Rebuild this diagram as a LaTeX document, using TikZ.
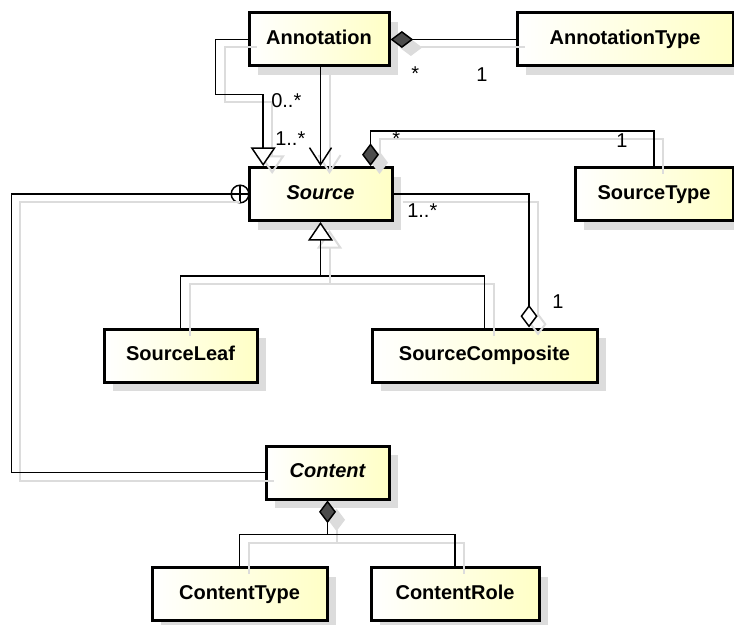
\documentclass[tikz,border=0pt]{standalone}
\usepackage{fontspec}
\setmainfont{Liberation Sans}
\usetikzlibrary{arrows.meta,shadows}
\definecolor{clsyellow}{HTML}{FFFFC6}
\definecolor{shadegray}{HTML}{DCDCDC}

\begin{document}
\begin{tikzpicture}[x=0.75pt,y=-0.75pt]

\tikzset{
  cls/.style={draw,rectangle,line width=2.25pt,minimum height=39.75pt,
    text height=11pt,text depth=3pt,
    left color=white,right color=clsyellow,
    font=\fontsize{15}{18}\selectfont\bfseries,
    drop shadow={shadow xshift=6.75pt,shadow yshift=-6.75pt,fill=shadegray,opacity=1}},
  abscls/.style={cls,font=\fontsize{15}{18}\selectfont\bfseries\itshape},
  lnshade/.style={draw=shadegray,line width=1.5pt,transform canvas={shift={(6.75pt,-6pt)}}},
  link/.style={line width=1.1pt,preaction={lnshade}},
  comp/.style={line width=1.1pt,arrows={Diamond[length=17pt,width=12.75pt,fill=black!70]-},
    preaction={lnshade,arrows={Diamond[length=17pt,width=12.75pt,fill=shadegray]-}}},
  aggr/.style={line width=1.1pt,arrows={-Diamond[length=17pt,width=12.75pt,fill=white]},
    preaction={lnshade,arrows={-Diamond[length=17pt,width=12.75pt,open]}}},
  gen/.style={line width=1.1pt,arrows={-Triangle[length=14pt,width=18.75pt,fill=white]},
    preaction={lnshade,arrows={-Triangle[length=14pt,width=18.75pt,open]}}},
  nav/.style={line width=1.1pt,arrows={-Straight Barb[length=12.75pt,width=16.5pt]},
    preaction={lnshade,arrows={-Straight Barb[length=12.75pt,width=16.5pt]}}},
  mult/.style={anchor=base west,inner sep=0pt,font=\fontsize{15}{18}\selectfont}
}

\useasboundingbox (0,0) rectangle (734,624);

% classes
\node[cls,minimum width=105pt] (ann) at (319,39.5) {Annotation};
\node[cls,minimum width=162pt] (annType) at (625,39.5) {AnnotationType};
\node[abscls,minimum width=107.25pt] (src) at (320.5,194) {Source};
\node[cls,minimum width=118.5pt] (srcType) at (654,194) {SourceType};
\node[cls,minimum width=114.75pt] (srcLeaf) at (180.5,355.5) {SourceLeaf};
\node[cls,minimum width=168.75pt] (srcComp) at (484.5,355.5) {SourceComposite};
\node[abscls,minimum width=92.25pt] (cnt) at (327.5,472.5) {Content};
\node[cls,minimum width=131.25pt] (cntType) at (239.5,594) {ContentType};
\node[cls,minimum width=126pt] (cntRole) at (455,594) {ContentRole};

%===================================================================
\draw[comp] (ann.east) -- (ann.east -| annType.west);
\draw[gen] (ann.west) -- ++(-32,0) -- ++(0,55) -| ([xshift=-43pt]src.north);
\draw[nav] (ann.south -| src.north) -- (src.north);
\draw[comp] ([xshift=-17.25pt]src.north east) -- ++(0,-35) -| (srcType.north);
\draw[aggr] (src.east) -| ([xshift=33.4pt]srcComp.north);

\coordinate (gj) at (src.south |- 0,276);
\draw[link] (srcLeaf.north) |- (gj) -| (srcComp.north);
\draw[gen] (gj) -- (src.south);

\node[draw,circle,line width=1.1pt,fill=white,minimum size=13.2pt,inner sep=0pt,outer sep=0pt,anchor=east] (nest) at ([xshift=1pt]src.west) {};
\draw[line width=1.1pt] (nest.north) -- (nest.south) (nest.west) -- (nest.east);
\draw[link] (nest.west) -- ++(-220,0) |- (cnt.west);

\draw[comp] (cnt.south) -- ++(0,34) coordinate (cj) -| (cntType.north);
\draw[link] (cj) -| (cntRole.north);

%===================================================================
\node[mult] (m1) at (411,81) {*};
\node[mult] (m2) at (476,82) {1};
\node[mult] (m3) at (271,108) {0..*};
\node[mult] (m4) at (275,146) {1..*};
\node[mult] (m5) at (392,146) {*};
\node[mult] (m6) at (616,147) {1};
\node[mult] (m7) at (407,217) {1..*};
\node[mult] (m8) at (552,308) {1};

\end{tikzpicture}
\end{document}
